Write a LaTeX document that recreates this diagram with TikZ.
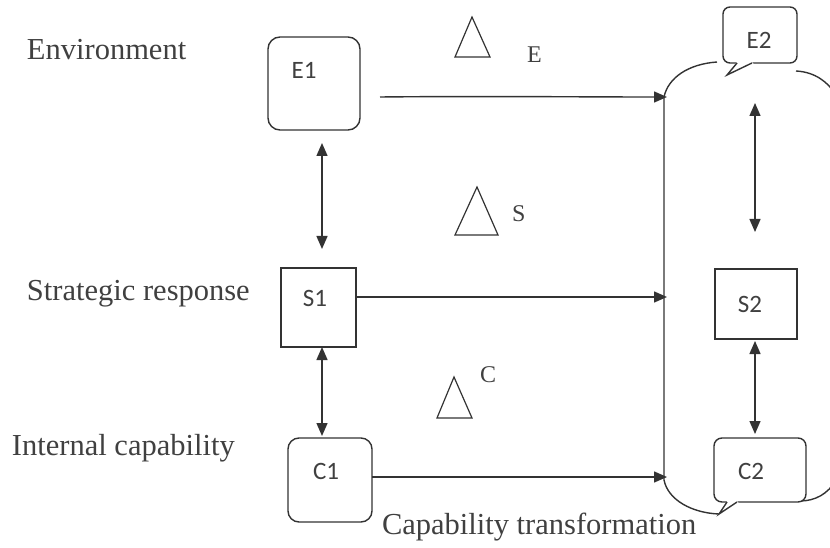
\documentclass[tikz,border=0pt]{standalone}
\usepackage{fontspec}
\setmainfont{Liberation Serif}
\newfontfamily\boxfont{Carlito}
\usetikzlibrary{arrows.meta}
\definecolor{ink}{HTML}{333333}
\definecolor{txt}{HTML}{404040}
\tikzset{
  line/.style={draw=ink, line width=1.4pt},
  arr/.style={line, -{Triangle[length=13pt,width=11pt]}},
  dbl/.style={line, {Triangle[length=13pt,width=11pt]}-{Triangle[length=13pt,width=11pt]}},
  sqbox/.style={line, fill=white, inner sep=0pt},
  rbox/.style={line, fill=white, inner sep=0pt, rounded corners=#1},
  lbl/.style={font=\fontsize{30.5}{36}\selectfont, text=txt},
  dlt/.style={font=\fontsize{24}{28}\selectfont, text=txt},
  boxlbl/.style={font=\boxfont\fontsize{25}{29}\selectfont, text=txt},
  delta/.style={line, line width=1.2pt, line join=miter},
}
\begin{document}
\begin{tikzpicture}[x=1pt,y=-1pt, every node/.style={inner sep=0pt, outer sep=0pt}]
\useasboundingbox (0,0) rectangle (830,548);
\clip (0,0) rectangle (830,548);

% row captions
\node[lbl, anchor=base west] (envlbl) at (27,60) {Environment};
\node[lbl, anchor=base west] (strlbl) at (27,300) {Strategic response};
\node[lbl, anchor=base west] (intlbl) at (12,455) {Internal capability};
\node[lbl, anchor=base west] (caplbl) at (382,534) {Capability transformation};

% change triangles
\draw[delta] (472,17) -- (455,57) -- (490,57) -- cycle;
\node[dlt, anchor=base west] (dE) at (527,63) {E};
\draw[delta] (477,187) -- (455,235) -- (498,235) -- cycle;
\node[dlt, anchor=base west] (dS) at (512,222) {S};
\draw[delta] (454,377) -- (437,418) -- (472,418) -- cycle;
\node[dlt, anchor=base west] (dC) at (480,382) {C};

% transformed state outline
\draw[line] (717,62) .. controls (688,64) and (668,78) .. (664,97)
  -- (664,480) .. controls (668,500) and (692,513) .. (719,514);
\draw[line] (796,71) .. controls (815,72) and (828,82) .. (836,95);
\draw[line] (800,501) .. controls (815,501) and (828,494) .. (836,480);

% left column boxes
\node[rbox=12pt, minimum width=92pt, minimum height=93pt] (e1) at (314,83.5) {};
\node[boxlbl, anchor=base] (e1t) at (304,79) {E1};
\node[sqbox, minimum width=75pt, minimum height=79pt] (s1) at (318.5,307.5) {};
\node[boxlbl, anchor=base] (s1t) at (315,306) {S1};
\node[rbox=11pt, minimum width=84pt, minimum height=84pt] (c1) at (330,480) {};
\node[boxlbl, anchor=base] (c1t) at (326,479) {C1};

% right column boxes and callouts
\node[sqbox, minimum width=82pt, minimum height=70pt] (s2) at (756,304) {};
\node[boxlbl, anchor=base] (s2t) at (750,312) {S2};

\node[rbox=7pt, minimum width=74pt, minimum height=56pt] (e2) at (760,35) {};
\fill[white] (737,62) -- (752,62) -- (754,64.5) -- (727,75) -- (735,64.5) -- cycle;
\draw[line, line join=miter] (e2.south -| 737,0) -- (727,75) -- (e2.south -| 752,0);
\node[boxlbl, anchor=base] (e2t) at (759,49) {E2};

\node[rbox=8pt, minimum width=92pt, minimum height=64pt] (c2) at (760,470) {};
\fill[white] (727,501) -- (737,501) -- (739,503.5) -- (719,514) -- (726,503.5) -- cycle;
\draw[line, line join=miter] (c2.south -| 727,0) -- (719,514) -- (c2.south -| 737,0);
\node[boxlbl, anchor=base] (c2t) at (751,479) {C2};

% connector end points
\coordinate (eOut) at (380,97);
\coordinate (fE) at (667,97);
\coordinate (fS) at (667,297);
\coordinate (fC) at (667,477);
\coordinate (kL) at (322,0);
\coordinate (kR) at (755,0);

% horizontal transitions
\draw[arr] (eOut) .. controls (480,96) and (580,97) .. (fE);
\draw[arr] (s1.east |- fS) -- (fS);
\draw[arr] (c1.east |- fC) -- (fC);

% vertical links (yshift is in page direction: negative moves down)
\draw[dbl] ([yshift=-13pt]e1.south -| kL) -- ([yshift=19pt]s1.north -| kL);
\draw[dbl] (s1.south -| kL) -- ([yshift=2pt]c1.north -| kL);
\draw[dbl] ([yshift=-40pt]e2.south -| kR) -- ([yshift=37pt]s2.north -| kR);
\draw[dbl] ([yshift=-2pt]s2.south -| kR) -- ([yshift=4pt]c2.north -| kR);
\end{tikzpicture}
\end{document}
